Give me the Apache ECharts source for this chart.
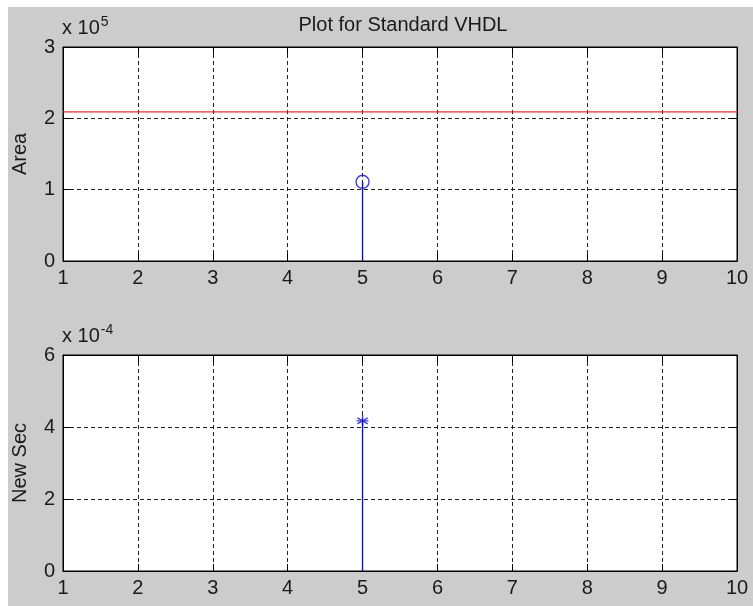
<!DOCTYPE html>
<html>
<head>
<meta charset="utf-8">
<script src="https://cdn.jsdelivr.net/npm/echarts@6/dist/echarts.min.js"></script>
<style>
html,body{margin:0;padding:0;background:#ffffff;}
#bg{position:absolute;left:8px;top:7px;width:745px;height:599px;background:#cccccc;}
#chart{position:absolute;left:0;top:0;width:753px;height:606px;}
</style>
</head>
<body>
<div id="bg"></div>
<div id="chart"></div>
<script>
// ---- data ----
const xTicks = [1, 2, 3, 4, 5, 6, 7, 8, 9, 10];
const stemX = 5;
const areaValue = 111000;       // top stem (circle)
const areaLimit = 209000;       // red horizontal line
const newSecValue = 0.000417;   // bottom stem (star)
const titleText = 'Plot for Standard VHDL';
const topYLabel = 'Area';
const bottomYLabel = 'New Sec';

const font = 'Liberation Sans, Arial, sans-serif';
const fs = 20;
const txt = '#1a1a1a';
const blue = '#1010c8';
const red = '#e03030';
const starPath = 'path://M0,-10L0,10M-8.66,-5L8.66,5M-8.66,5L8.66,-5M-10,0L10,0';

function xAxes(gi) {
  return [{
    type: 'value', gridIndex: gi, min: xTicks[0], max: xTicks[xTicks.length - 1], interval: 1,
    axisLine: {show: true, onZero: false, lineStyle: {color: '#000', width: 1}},
    axisTick: {show: true, inside: true, length: 7, lineStyle: {color: '#000'}},
    axisLabel: {color: txt, fontSize: fs, fontFamily: font, margin: 7},
    splitLine: {show: true, lineStyle: {color: '#222', type: [4, 3], width: 1}}
  }, {
    type: 'value', gridIndex: gi, position: 'top', min: xTicks[0], max: xTicks[xTicks.length - 1], interval: 1,
    axisLine: {show: true, onZero: false, lineStyle: {color: '#000', width: 1}},
    axisTick: {show: true, inside: true, length: 7, lineStyle: {color: '#000'}},
    axisLabel: {show: false}, splitLine: {show: false}
  }];
}
function yAxes(gi, max, interval, scale, exp, name) {
  return [{
    type: 'value', gridIndex: gi, min: 0, max: max, interval: interval,
    axisLine: {show: true, onZero: false, lineStyle: {color: '#000', width: 1}},
    axisTick: {show: true, inside: true, length: 7, lineStyle: {color: '#000'}},
    axisLabel: {color: txt, fontSize: fs, fontFamily: font, margin: 8,
      formatter: v => String(Math.round(v / scale))},
    splitLine: {show: true, lineStyle: {color: '#222', type: [4, 3], width: 1}},
    name: name, nameLocation: 'middle', nameGap: 33, nameRotate: 90,
    nameTextStyle: {color: txt, fontSize: fs, fontFamily: font}
  }, {
    type: 'value', gridIndex: gi, position: 'right', min: 0, max: max, interval: interval,
    axisLine: {show: true, onZero: false, lineStyle: {color: '#000', width: 1}},
    axisTick: {show: true, inside: true, length: 7, lineStyle: {color: '#000'}},
    axisLabel: {show: false}, splitLine: {show: false},
    name: '{b|x 10}{s|' + exp + '}', nameLocation: 'end', nameGap: 0,
    nameTextStyle: {
      color: txt, fontFamily: font, align: 'left', verticalAlign: 'bottom',
      padding: [0, 0, 6, -675],
      rich: {
        b: {fontSize: fs, fontFamily: font, color: txt},
        s: {fontSize: 14, fontFamily: font, color: txt, padding: [0, 0, 12, 1]}
      }
    }
  }];
}

const chart = echarts.init(document.getElementById('chart'), null, {renderer: 'canvas'});
chart.setOption({
  backgroundColor: 'transparent',
  animation: false,
  title: {
    text: titleText, left: 398, top: 10, textAlign: 'center',
    textStyle: {color: txt, fontSize: fs, fontWeight: 'normal', fontFamily: font}
  },
  grid: [
    {left: 63, top: 47, width: 674, height: 214, show: true, backgroundColor: '#ffffff', borderColor: '#000', borderWidth: 1},
    {left: 63, top: 355, width: 674, height: 216, show: true, backgroundColor: '#ffffff', borderColor: '#000', borderWidth: 1}
  ],
  xAxis: [].concat(xAxes(0), xAxes(1)),
  yAxis: [].concat(
    yAxes(0, 300000, 100000, 100000, '5', topYLabel),
    yAxes(1, 0.0006, 0.0002, 0.0001, '-4', bottomYLabel)
  ),
  series: [
    {type: 'line', xAxisIndex: 0, yAxisIndex: 0, data: [[xTicks[0], areaLimit], [xTicks[xTicks.length - 1], areaLimit]],
     symbol: 'none', lineStyle: {color: red, width: 1.2}, silent: true},
    {type: 'line', xAxisIndex: 0, yAxisIndex: 0, data: [[stemX, 0], [stemX, areaValue]],
     symbol: 'none', lineStyle: {color: blue, width: 1.4}},
    {type: 'scatter', xAxisIndex: 0, yAxisIndex: 0, data: [[stemX, areaValue]],
     symbol: 'circle', symbolSize: 13, itemStyle: {color: 'rgba(0,0,0,0)', borderColor: blue, borderWidth: 1.4}},
    {type: 'line', xAxisIndex: 2, yAxisIndex: 2, data: [[stemX, 0], [stemX, newSecValue]],
     symbol: 'none', lineStyle: {color: blue, width: 1.4}},
    {type: 'scatter', xAxisIndex: 2, yAxisIndex: 2, data: [[stemX, newSecValue]],
     symbol: starPath, symbolSize: 12, itemStyle: {color: 'rgba(0,0,0,0)', borderColor: blue, borderWidth: 1.4}}
  ]
});
</script>
</body>
</html>
